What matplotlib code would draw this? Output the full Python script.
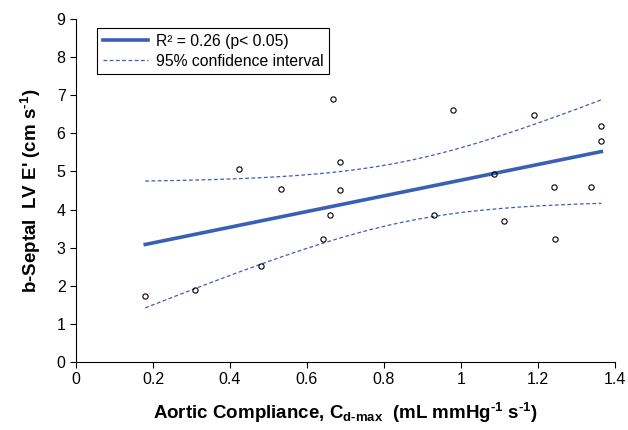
import numpy as np
import matplotlib
matplotlib.use("Agg")
import matplotlib.pyplot as plt

# scatter values
compliance = [0.180, 0.308, 0.423, 0.482, 0.532, 0.642, 0.659, 0.669, 0.686, 0.687,
              0.929, 0.980, 1.085, 1.111, 1.190, 1.241, 1.244, 1.337, 1.363, 1.365]
septal_e = [1.73, 1.90, 5.07, 2.51, 4.53, 3.22, 3.87, 6.90, 5.26, 4.50,
            3.86, 6.62, 4.93, 3.71, 6.48, 4.58, 3.23, 4.58, 6.19, 5.80]

x_ticks = [0, 0.2, 0.4, 0.6, 0.8, 1, 1.2, 1.4]
x_tick_labels = ["0", "0.2", "0.4", "0.6", "0.8", "1", "1.2", "1.4"]
y_ticks = list(range(0, 10))

plt.rcParams['font.family'] = ['Liberation Sans', 'DejaVu Sans']
plt.rcParams['mathtext.fontset'] = 'custom'
plt.rcParams['mathtext.rm'] = 'Liberation Sans:bold'
plt.rcParams['mathtext.default'] = 'rm'

x = np.array(compliance)
y = np.array(septal_e)
n = len(x)

# linear fit + 95% confidence band (Working-Hotelling multiplier)
slope, intercept = np.polyfit(x, y, 1)
resid = y - (slope * x + intercept)
s = np.sqrt(np.sum(resid ** 2) / (n - 2))
sxx = np.sum((x - x.mean()) ** 2)
w_mult = np.sqrt(2 * 3.555)  # sqrt(2 F(0.95; 2, 18))
xf = np.linspace(x.min(), x.max(), 200)
yf = slope * xf + intercept
half = w_mult * s * np.sqrt(1.0 / n + (xf - x.mean()) ** 2 / sxx)

blue = '#3b5fb5'

fig = plt.figure(figsize=(6.28, 4.30), dpi=100)
ax = fig.add_axes([0.121, 0.158, 0.858, 0.798])

ax.plot(xf, yf, color=blue, lw=2.6, label='R\u00b2 = 0.26 (p< 0.05)')
ax.plot(xf, yf + half, color=blue, lw=0.9, ls=(0, (3, 2)), label='95% confidence interval')
ax.plot(xf, yf - half, color=blue, lw=0.9, ls=(0, (3, 2)))
ax.plot(x, y, 'o', ms=3.8, mfc='none', mec='black', mew=0.8)

ax.set_xlim(0, 1.4)
ax.set_ylim(0, 9)
ax.set_xticks(x_ticks)
ax.set_xticklabels(x_tick_labels)
ax.set_yticks(y_ticks)
ax.tick_params(direction='out', length=4, width=0.8, labelsize=11.5, colors='black')
for side in ('top', 'right'):
    ax.spines[side].set_visible(False)
for side in ('left', 'bottom'):
    ax.spines[side].set_linewidth(0.8)

ax.set_xlabel(r'Aortic Compliance, C$_{d\text{-}max}$  (mL mmHg$^{\text{-}1}$ s$^{\text{-}1}$)',
              fontsize=13.5, fontweight='bold', labelpad=10)
ax.set_ylabel(r"b-Septal  LV E' (cm s$^{\text{-}1}$)", fontsize=13.5, fontweight='bold', labelpad=10)

leg = ax.legend(loc='upper left', bbox_to_anchor=(0.025, 0.995), fontsize=11.3,
                fancybox=False, edgecolor='black', framealpha=1,
                handlelength=2.9, handletextpad=0.5, borderpad=0.35, labelspacing=0.3)
leg.get_frame().set_linewidth(0.8)

fig.savefig('out.png', dpi=100)
